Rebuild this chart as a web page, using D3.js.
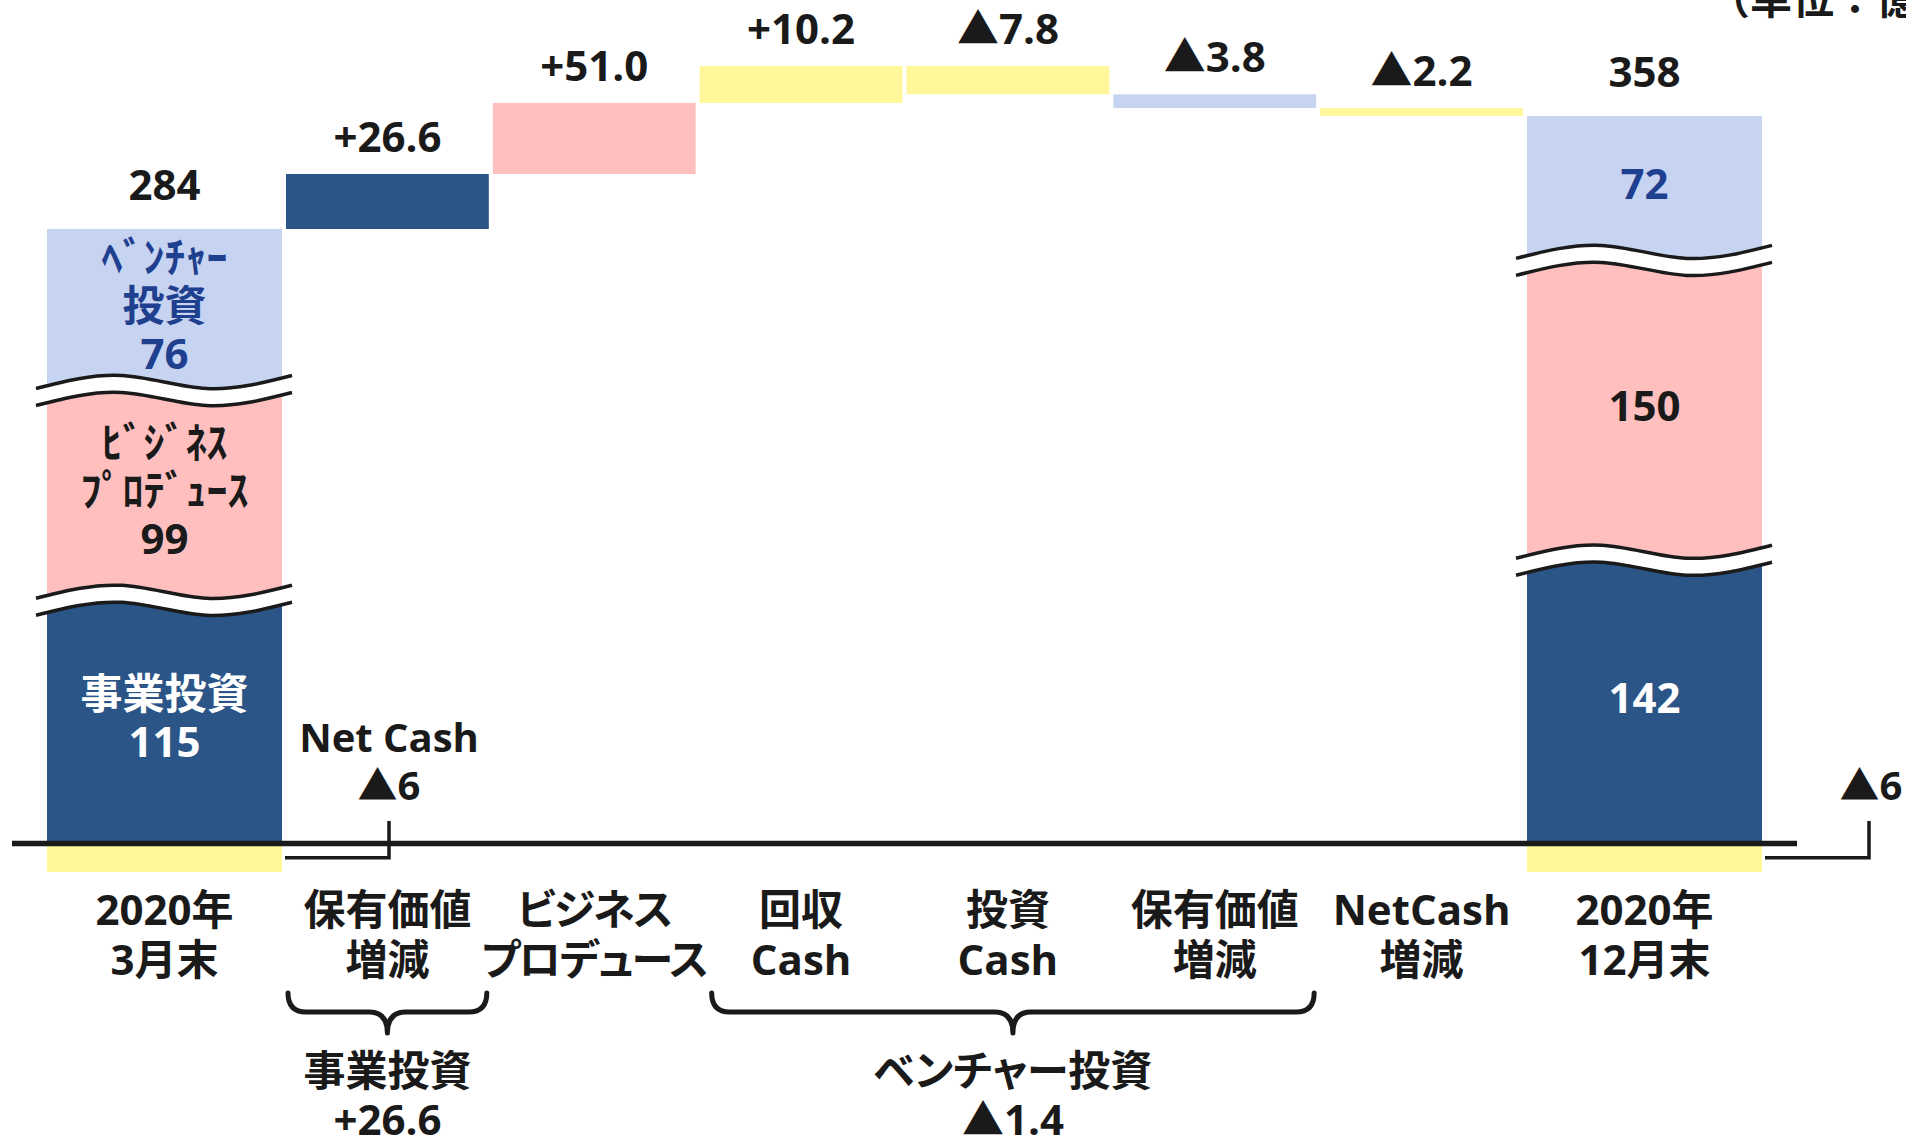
<!DOCTYPE html>
<html>
<head>
<meta charset="utf-8">
<script src="https://cdn.jsdelivr.net/npm/d3@7"></script>
<style>
body { margin: 0; background: #fff; }
text { font-family: "Open Sans", "Noto Sans CJK JP", sans-serif; font-weight: 700; font-feature-settings: "palt"; fill: #1a1a1a; }
text.nopalt { font-feature-settings: normal; }
</style>
</head>
<body>
<script>
var width = 1906, height = 1139;

// data
var totalCategories = ["2020年\n3月末", "2020年\n12月末"];
var segmentLabelsStart = ["事業投資", "ﾋﾞｼﾞﾈｽ\nﾌﾟﾛﾃﾞｭｰｽ", "ﾍﾞﾝﾁｬｰ\n投資"];
var startSegments = [115, 99, 76];
var endSegments = [142, 150, 72];
var netCash = [-6, -6];
var stepCategories = ["保有価値\n増減", "ビジネス\nプロデュース", "回収\nCash", "投資\nCash", "保有価値\n増減", "NetCash\n増減"];
var stepValues = [26.6, 51.0, 10.2, -7.8, -3.8, -2.2];
var stepKinds = ["business", "produce", "cash", "cash", "venture", "cash"];
var groupNames = ["事業投資", "ベンチャー投資"];
var groupSpans = [[0, 0], [2, 4]];
var unitLabel = "（単位：億円）";

var colors = { business: "#2B5587", produce: "#FFBFBF", venture: "#C6D4F2", cash: "#FFF799" };
var segmentKinds = ["business", "produce", "venture"];
var segmentTextColors = ["#ffffff", "#1a1a1a", "#1F3F8F"];

var fmtStep = function(v) { return (v >= 0 ? "+" : "▲") + d3.format(".1f")(Math.abs(v)); };
var fmtNeg = function(v) { return (v >= 0 ? "+" : "▲") + d3.format("d")(Math.abs(v)); };

var svg = d3.select('body').append('svg')
    .attr('width', width)
    .attr('height', height);

// layout
var axisY = 843.5;
var totalW = 235, gap = 4;
var totalsX = [47, 1527];
var xStep = d3.scaleBand().domain(d3.range(stepValues.length))
    .range([totalsX[0] + totalW + gap, totalsX[1] - gap])
    .paddingInner(0.0195);

// waterfall values
var startTotal = d3.sum(startSegments) + netCash[0];
var cum = [startTotal].concat(Array.from(d3.cumsum(stepValues), function(v) { return startTotal + v; }));
var endTotal = cum[cum.length - 1];
var yTop = d3.scaleLinear()
    .domain([startTotal, cum[1], endTotal, d3.max(cum)])
    .range([229, 174, 116, 66]);
var yNeg = d3.scaleLinear().domain([0, d3.min(netCash)]).range([axisY, 872]);

function addLines(g, lines, x, y0, lh) {
  var t = g.append('text').attr('text-anchor', 'middle');
  lines.forEach(function(s, i) {
    t.append('tspan').attr('x', x).attr('y', y0 + i * lh).text(s);
  });
  return t;
}

// total bars
var wave = d3.line().curve(d3.curveNatural);
function wavePts(x0, x1, cy) {
  var w = x1 - x0;
  return [[x0, cy + 7], [x0 + w / 3, cy - 6], [x0 + 2 * w / 3, cy + 7], [x1, cy - 6]];
}
var band = d3.area().curve(d3.curveNatural)
    .x(function(d) { return d[0]; })
    .y0(function(d) { return d[1] - 8.5; })
    .y1(function(d) { return d[1] + 8.5; });

[startSegments, endSegments].forEach(function(segs, bi) {
  var total = bi === 0 ? startTotal : endTotal;
  var x0 = totalsX[bi], x1 = x0 + totalW, cx = x0 + totalW / 2;
  var yS = d3.scaleLinear().domain([0, d3.sum(segs)]).range([axisY, yTop(total)]);
  var stack = [0].concat(Array.from(d3.cumsum(segs)));
  var g = svg.append('g');

  g.selectAll('rect.seg').data(segs).enter().append('rect')
      .attr('class', 'seg')
      .attr('x', x0).attr('width', totalW)
      .attr('y', function(d, i) { return yS(stack[i + 1]); })
      .attr('height', function(d, i) { return yS(stack[i]) - yS(stack[i + 1]); })
      .attr('fill', function(d, i) { return colors[segmentKinds[i]]; });

  g.append('rect')
      .attr('x', x0).attr('width', totalW)
      .attr('y', yNeg(0)).attr('height', yNeg(netCash[bi]) - yNeg(0))
      .attr('fill', colors.cash);

  // breaks between segments
  stack.slice(1, -1).forEach(function(v) {
    var pts = wavePts(x0 - 11, x1 + 10, yS(v));
    g.append('path').attr('d', band(pts)).attr('fill', '#fff');
    [-8.5, 8.5].forEach(function(o) {
      g.append('path')
          .attr('d', wave(pts.map(function(p) { return [p[0], p[1] + o]; })))
          .attr('fill', 'none').attr('stroke', '#1a1a1a').attr('stroke-width', 3.5);
    });
  });

  // segment labels
  segs.forEach(function(v, i) {
    var lines = bi === 0 ? segmentLabelsStart[i].split('\n').concat([String(v)]) : [String(v)];
    var c = (yS(stack[i]) + yS(stack[i + 1])) / 2 - 4;
    var t = addLines(g, lines, cx, c - (lines.length - 1) * 24 + 15, 48)
        .attr('class', 'nopalt')
        .style('font-size', '42px');
    t.style('fill', segmentTextColors[i]);
  });

  // total label
  g.append('text').attr('text-anchor', 'middle')
      .attr('x', cx).attr('y', yTop(total) - 29)
      .style('font-size', '42px')
      .text(d3.format("d")(total));

  // category label
  addLines(g, totalCategories[bi].split('\n'), cx, 925, 50).style('font-size', '42px');

  // net cash bracket
  var bx = x1 + 107, by = yNeg(netCash[bi] / 2);
  g.append('path')
      .attr('d', 'M' + (x1 + 3) + ',' + by + 'H' + bx + 'V821')
      .attr('fill', 'none').attr('stroke', '#1a1a1a').attr('stroke-width', 3.5);
  var nl = bi === 0 ? ["Net Cash", fmtNeg(netCash[bi])] : [fmtNeg(netCash[bi])];
  addLines(g, nl, bx + (bi === 0 ? 0 : 2), 800 - (nl.length - 1) * 48, 48).style('font-size', '40px');
});

// steps
var steps = svg.append('g');
steps.selectAll('rect').data(stepValues).enter().append('rect')
    .attr('x', function(d, i) { return xStep(i); })
    .attr('width', xStep.bandwidth())
    .attr('y', function(d, i) { return yTop(Math.max(cum[i], cum[i + 1])); })
    .attr('height', function(d, i) { return yTop(Math.min(cum[i], cum[i + 1])) - yTop(Math.max(cum[i], cum[i + 1])); })
    .attr('fill', function(d, i) { return colors[stepKinds[i]]; });

steps.selectAll('text.val').data(stepValues).enter().append('text')
    .attr('class', 'val')
    .attr('text-anchor', 'middle')
    .attr('x', function(d, i) { return xStep(i) + xStep.bandwidth() / 2; })
    .attr('y', function(d, i) { return yTop(Math.max(cum[i], cum[i + 1])) - 22; })
    .style('font-size', '42px')
    .text(fmtStep);

stepCategories.forEach(function(c, i) {
  addLines(steps, c.split('\n'), xStep(i) + xStep.bandwidth() / 2, 925, 50)
      .style('font-size', '42px')
      .style('letter-spacing', c.indexOf('プロデュース') >= 0 ? '-1.5px' : null);
});

// axis line
svg.append('line')
    .attr('x1', 12).attr('x2', 1797)
    .attr('y1', axisY).attr('y2', axisY)
    .attr('stroke', '#1a1a1a').attr('stroke-width', 5.5);

// group braces
groupSpans.forEach(function(s, gi) {
  var a = xStep(s[0]) + 2 + gi * 10, b = xStep(s[1]) + xStep.bandwidth() - 2, m = (a + b) / 2;
  var top = 993, mid = 1012, tip = 1033, r = 18;
  var d = 'M' + a + ',' + top + 'Q' + a + ',' + mid + ' ' + (a + r) + ',' + mid +
      'H' + (m - r) + 'Q' + m + ',' + mid + ' ' + m + ',' + tip +
      'Q' + m + ',' + mid + ' ' + (m + r) + ',' + mid +
      'H' + (b - r) + 'Q' + b + ',' + mid + ' ' + b + ',' + top;
  svg.append('path').attr('d', d)
      .attr('fill', 'none').attr('stroke', '#1a1a1a').attr('stroke-width', 5)
      .attr('stroke-linecap', 'round').attr('stroke-linejoin', 'round');
  var sum = d3.sum(stepValues.slice(s[0], s[1] + 1));
  addLines(svg, [groupNames[gi], fmtStep(sum)], m, 1086, 49).style('font-size', '42px');
});

// unit
svg.append('text').attr('class', 'nopalt')
    .attr('x', 1708).attr('y', 14)
    .style('font-size', '42px')
    .text(unitLabel);
</script>
</body>
</html>
